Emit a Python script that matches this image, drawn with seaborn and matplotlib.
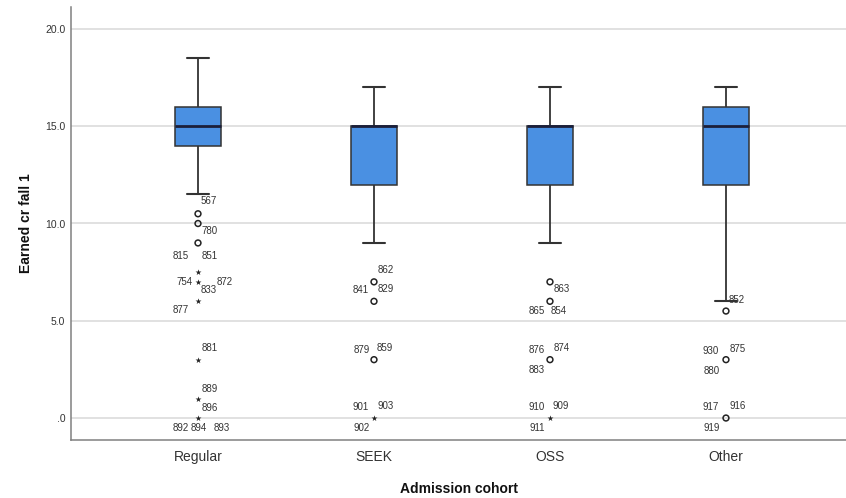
import numpy as np
import pandas as pd
import matplotlib
matplotlib.use("Agg")
import matplotlib.pyplot as plt
import seaborn as sns

# ---------------- data ----------------
cohorts = ["Regular", "SEEK", "OSS", "Other"]
whisker_low = [11.5, 9.0, 9.0, 6.0]
q1 = [14.0, 12.0, 12.0, 12.0]
median = [15.0, 15.0, 15.0, 15.0]
q3 = [16.0, 15.0, 15.0, 16.0]
whisker_high = [18.5, 17.0, 17.0, 17.0]

# outliers (o) beyond 1.5 IQR
mild_cohort = ["Regular", "Regular", "Regular", "SEEK", "SEEK", "SEEK",
               "OSS", "OSS", "OSS", "Other", "Other", "Other"]
mild_value = [10.5, 10.0, 9.0, 7.0, 6.0, 3.0, 7.0, 6.0, 3.0, 5.5, 3.0, 0.0]

# extreme values (*) beyond 3 IQR
extreme_cohort = ["Regular", "Regular", "Regular", "Regular", "Regular", "Regular",
                  "SEEK", "OSS"]
extreme_value = [7.5, 7.0, 6.0, 3.0, 1.0, 0.0, 0.0, 0.0]

# case labels
label_cohort = (["Regular"] * 14 + ["SEEK"] * 8 + ["OSS"] * 9 + ["Other"] * 7)
label_value = [10.5, 10, 9, 9, 7, 7, 7, 6, 3, 1, 0, 0, 0, 0,
               7, 6, 6, 3, 3, 0, 0, 0,
               7, 6, 6, 3, 3, 3, 0, 0, 0,
               5.5, 3, 3, 3, 0, 0, 0]
label_text = ["567", "780", "815", "851", "754", "872", "833", "877", "881", "889",
              "896", "892", "894", "893",
              "862", "841", "829", "879", "859", "901", "903", "902",
              "863", "865", "854", "876", "874", "883", "910", "909", "911",
              "852", "930", "875", "880", "917", "916", "919"]

y_ticks = [0, 5, 10, 15, 20]
y_ticklabels = [".0", "5.0", "10.0", "15.0", "20.0"]

# ---------------- layout (pixel offsets of labels, image y downwards) ----------------
label_offset = [(11, -13), (12, 7), (-17, 13), (12, 13), (-13, 0), (27, 0), (11, 8),
                (-17, 9), (12, -12), (12, -10), (12, -10), (-17, 10), (1, 10), (24, 10),
                (12, -12), (-13, -11), (12, -12), (-12, -10), (11, -12), (-13, -11),
                (12, -12), (-12, 10),
                (12, 7), (-13, 10), (9, 10), (-13, -10), (12, -12), (-13, 10),
                (-13, -11), (11, -12), (-13, 10),
                (11, -11), (-15, -9), (12, -11), (-14, 11), (-15, -11), (12, -12),
                (-14, 10)]

sns.set_style("white")
plt.rcParams["font.family"] = ["Liberation Sans", "DejaVu Sans"]

fig = plt.figure(figsize=(8.46, 4.98), dpi=100)
ax = fig.add_axes([71 / 846, 1 - 440 / 498, 1 - 71 / 846, (440 - 7) / 498])

summary = pd.DataFrame({
    "cohort": np.repeat(cohorts, 5),
    "credits": np.column_stack([whisker_low, q1, median, q3, whisker_high]).ravel(),
})

sns.boxplot(data=summary, x="cohort", y="credits", order=cohorts, whis=(0, 100),
            width=0.256, color="#4A90E2", saturation=1, linecolor="#333333",
            linewidth=1.1, showfliers=False,
            medianprops=dict(color="#1b1f3a", linewidth=2.0),
            whiskerprops=dict(color="#333333", linewidth=1.3),
            capprops=dict(color="#333333", linewidth=1.5),
            ax=ax, zorder=3)

n0 = len(ax.collections)
sns.stripplot(x=mild_cohort, y=mild_value, order=cohorts, jitter=False, marker="o",
              size=4.2, color="#222222", linewidth=1.1, ax=ax, zorder=4)
for c in ax.collections[n0:]:
    c.set_facecolor("none")
    c.set_edgecolor("#222222")
    c.set_linewidth(1.1)

sns.stripplot(x=extreme_cohort, y=extreme_value, order=cohorts, jitter=False, marker="*",
              size=4.5, color="#222222", linewidth=0, ax=ax, zorder=4)

for coh, val, txt, (dx, dy) in zip(label_cohort, label_value, label_text, label_offset):
    ax.annotate(txt, xy=(cohorts.index(coh), val), xytext=(dx, -dy),
                textcoords="offset pixels", ha="center", va="center",
                fontsize=7, color="#333333", zorder=5)

ax.set_xlim(-0.7216, 3.682)
ax.set_ylim(-1.13, 21.13)
ax.set_yticks(y_ticks)
ax.set_yticklabels(y_ticklabels)
ax.tick_params(axis="both", length=0)
ax.tick_params(axis="y", pad=4, labelsize=7.5, labelcolor="#333333")
ax.tick_params(axis="x", pad=7, labelsize=10, labelcolor="#333333")

ax.yaxis.grid(True, color="#d9d9d9", linewidth=1.1)
ax.xaxis.grid(False)
ax.set_axisbelow(True)

for s in ["top", "right"]:
    ax.spines[s].set_visible(False)
for s in ["left", "bottom"]:
    ax.spines[s].set_color("#808080")
    ax.spines[s].set_linewidth(1.1)

ax.set_ylabel("Earned cr fall 1", fontsize=10, fontweight="bold", labelpad=9, color="#111111")
ax.set_xlabel("Admission cohort", fontsize=10, fontweight="bold", labelpad=13, color="#111111")

fig.savefig("out.png", dpi=100)
